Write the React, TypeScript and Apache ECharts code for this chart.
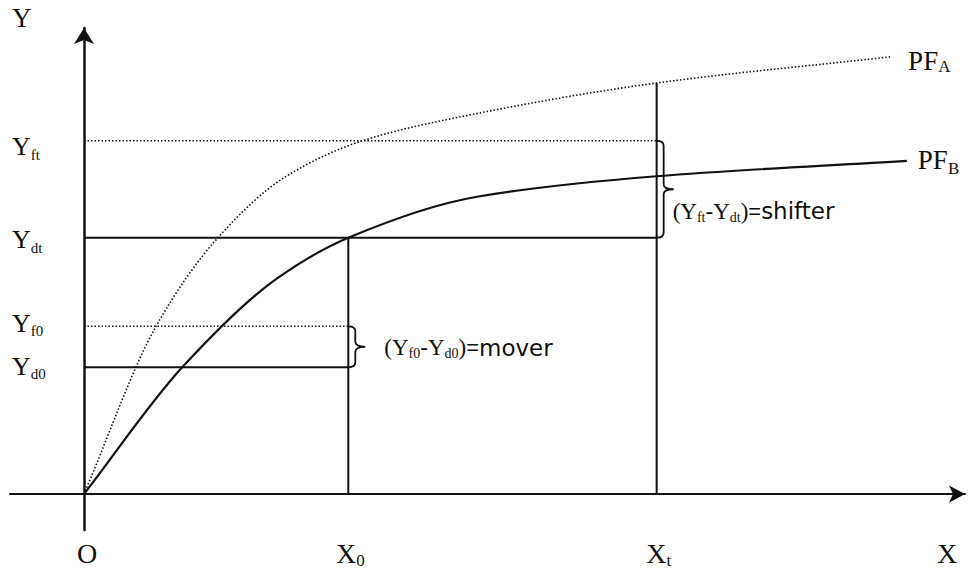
import React, { useEffect, useRef } from "react";
import * as echarts from "echarts";

// ---- values (arbitrary units, origin O = [0, 0]) ----
const X0 = 30;
const XT = 65;
const Y_FT = 75.8;
const Y_DT = 55;
const Y_F0 = 36;
const Y_D0 = 27.2;
const PF_A_AT_XT = 88.2;

const pfAX = [0, 8.2, 15.2, 22.8, 31.6, 45.0, 65, 91.5];
const pfAY = [0, 36.1, 55.0, 68.0, 75.8, 81.8, 88.2, 93.8];
const pfBX = [0, 11.2, 22.0, 30, 44.6, 65, 93.4];
const pfBY = [0, 27.3, 46.4, 55, 63.8, 68.2, 71.5];

const yTickValues = [Y_FT, Y_DT, Y_F0, Y_D0];
const yTickSubs = ["ft", "dt", "f0", "d0"];
const xTickValues = [0, X0, XT];
const xTickMains = ["O", "X", "X"];
const xTickSubs = ["", "0", "t"];
const curveSubs = ["A", "B"];

// ---- layout (not data) ----
const X_MIN = -8.4;
const X_MAX = 100;
const Y_MIN = -7.7;
const Y_MAX = 100;
const INK = "#111";
const SERIF = "'Liberation Serif', 'Times New Roman', serif";
const SANS = "'DejaVu Sans', Verdana, sans-serif";
const SANS2 = "'Liberation Sans', Arial, sans-serif";
const f = (size: number, fam: string) => `${size}px ${fam}`;

type Part = { t: string; font: string; dy: number };
type LabelSpec = { value: [number, number]; dx: number; dy: number; align: "left" | "center"; parts: Part[] };

const pairs = (xs: number[], ys: number[]) => xs.map((x, i) => [x, ys[i]]);

const yTickDy = [6, 2, -3, -1];

function buildLabels(): LabelSpec[] {
  const L: LabelSpec[] = [];
  L.push({ value: [0, Y_MAX], dx: -72, dy: -10, align: "left", parts: [{ t: "Y", font: f(27, SERIF), dy: 0 }] });
  L.push({ value: [X_MAX, 0], dx: -18, dy: 59, align: "center", parts: [{ t: "X", font: f(28, SERIF), dy: 0 }] });
  yTickValues.forEach((v, i) => {
    L.push({
      value: [0, v], dx: -72, dy: yTickDy[i], align: "left",
      parts: [{ t: "Y", font: f(26, SERIF), dy: 0 }, { t: yTickSubs[i], font: f(15, SERIF), dy: 8 }],
    });
  });
  xTickValues.forEach((v, i) => {
    const parts: Part[] = [{ t: xTickMains[i], font: f(28, SERIF), dy: 0 }];
    if (xTickSubs[i]) parts.push({ t: xTickSubs[i], font: f(17, SERIF), dy: 7 });
    L.push({ value: [v, 0], dx: i === 0 ? 3 : 2, dy: 59, align: "center", parts });
  });
  const endsA = [pfAX[pfAX.length - 1], pfAY[pfAY.length - 1]] as [number, number];
  const endsB = [pfBX[pfBX.length - 1], pfBY[pfBY.length - 1]] as [number, number];
  L.push({ value: endsA, dx: 18, dy: 4, align: "left", parts: [{ t: "PF", font: f(27, SERIF), dy: 0 }, { t: curveSubs[0], font: f(17, SERIF), dy: 6 }] });
  L.push({ value: endsB, dx: 11, dy: -1, align: "left", parts: [{ t: "PF", font: f(27, SERIF), dy: 0 }, { t: curveSubs[1], font: f(17, SERIF), dy: 9 }] });
  const ann = (s1: string, s2: string, word: string): Part[] => [
    { t: "(", font: f(23, SERIF), dy: 0 },
    { t: "Y", font: f(23, SERIF), dy: 0 },
    { t: s1, font: f(14, SERIF), dy: 6 },
    { t: "-", font: f(23, SERIF), dy: 0 },
    { t: "Y", font: f(23, SERIF), dy: 0 },
    { t: s2, font: f(14, SERIF), dy: 6 },
    { t: ")", font: f(23, SERIF), dy: 0 },
    { t: "=", font: f(22, SANS2), dy: 0 },
    { t: word, font: f(23, SANS), dy: 0 },
  ];
  L.push({ value: [X0, (Y_F0 + Y_D0) / 2], dx: 36, dy: 1, align: "left", parts: ann("f0", "d0", "mover") });
  L.push({ value: [XT, (Y_FT + Y_DT) / 2], dx: 16, dy: 22, align: "left", parts: ann("ft", "dt", "shifter") });
  return L;
}

const braces = [
  [X0, Y_D0, Y_F0],
  [XT, Y_DT, Y_FT],
];

// monotone cubic (Fritsch–Carlson) path through pixel points
function monotonePath(pts: number[][]): string {
  const n = pts.length;
  const d: number[] = [];
  const h: number[] = [];
  for (let i = 0; i < n - 1; i++) {
    h.push(pts[i + 1][0] - pts[i][0]);
    d.push((pts[i + 1][1] - pts[i][1]) / h[i]);
  }
  const m: number[] = new Array(n);
  m[0] = d[0];
  m[n - 1] = d[n - 2];
  for (let i = 1; i < n - 1; i++) {
    if (d[i - 1] * d[i] <= 0) m[i] = 0;
    else {
      const w1 = 2 * h[i] + h[i - 1];
      const w2 = h[i] + 2 * h[i - 1];
      m[i] = (w1 + w2) / (w1 / d[i - 1] + w2 / d[i]);
    }
  }
  let s = `M${pts[0][0]} ${pts[0][1]}`;
  for (let i = 0; i < n - 1; i++) {
    const [x1, y1] = pts[i];
    const [x2, y2] = pts[i + 1];
    const t = h[i] / 3;
    s += ` C${x1 + t} ${y1 + m[i] * t} ${x2 - t} ${y2 - m[i + 1] * t} ${x2} ${y2}`;
  }
  return s;
}

export default function App() {
  const ref = useRef<HTMLDivElement>(null);
  useEffect(() => {
    if (!ref.current) return;
    const chart = echarts.init(ref.current, undefined, { renderer: "svg" });
    const canvas = document.createElement("canvas");
    const ctx = canvas.getContext("2d")!;
    const measure = (t: string, font: string) => {
      ctx.font = font;
      return ctx.measureText(t).width;
    };
    const labels = buildLabels();

    const solid = { color: INK, width: 2, type: "solid" as const };
    const dotted = { color: INK, width: 1.5, type: [1.5, 2] as any };
    const seg = (data: number[][], lineStyle: any) => ({
      type: "line",
      data,
      symbol: "none",
      lineStyle,
      silent: true,
      animation: false,
      z: 3,
    });
    const curve = (name: string, data: number[][], style: any) => ({
      type: "custom",
      name,
      coordinateSystem: "cartesian2d",
      data,
      clip: false,
      silent: true,
      z: 4,
      renderItem: (params: any, api: any) => {
        if (params.dataIndex !== 0) return null;
        const px = data.map((p) => api.coord(p));
        return { type: "path", shape: { pathData: monotonePath(px) }, style: { fill: "none", stroke: INK, ...style } };
      },
    });

    chart.setOption({
      animation: false,
      backgroundColor: "#fff",
      grid: { left: 10, right: 3, top: 28, bottom: 41 },
      xAxis: {
        type: "value",
        min: X_MIN,
        max: X_MAX,
        axisLine: { show: true, onZero: true, symbol: ["none", "arrow"], symbolSize: [13, 16], lineStyle: { color: INK, width: 2 } },
        axisTick: { show: false },
        axisLabel: { show: false },
        splitLine: { show: false },
      },
      yAxis: {
        type: "value",
        min: Y_MIN,
        max: Y_MAX,
        axisLine: { show: true, onZero: true, symbol: ["none", "arrow"], symbolSize: [15, 16], lineStyle: { color: INK, width: 2.5 } },
        axisTick: { show: false },
        axisLabel: { show: false },
        splitLine: { show: false },
      },
      series: [
        seg([[0, Y_FT], [XT, Y_FT]], dotted),
        seg([[0, Y_DT], [XT, Y_DT]], solid),
        seg([[0, Y_F0], [X0, Y_F0]], dotted),
        seg([[0, Y_D0], [X0, Y_D0]], solid),
        seg([[X0, 0], [X0, Y_DT]], solid),
        seg([[XT, 0], [XT, PF_A_AT_XT]], solid),
        curve("PF_A", pairs(pfAX, pfAY), { lineWidth: 1.6, lineDash: [1.5, 2] }),
        curve("PF_B", pairs(pfBX, pfBY), { lineWidth: 2.2 }),
        {
          type: "custom",
          coordinateSystem: "cartesian2d",
          data: braces,
          clip: false,
          silent: true,
          z: 5,
          renderItem: (_p: any, api: any) => {
            const x = api.value(0);
            const top = api.coord([x, api.value(2)]);
            const bot = api.coord([x, api.value(1)]);
            const x0 = top[0];
            const y1 = top[1];
            const y2 = bot[1];
            const xv = x0 + 7;
            const xt = xv + 10;
            const ym = (y1 + y2) / 2;
            const r = 5;
            const c = 5;
            const d =
              `M${x0} ${y1} Q${xv} ${y1} ${xv} ${y1 + r} L${xv} ${ym - c} Q${xv} ${ym} ${xt} ${ym} ` +
              `Q${xv} ${ym} ${xv} ${ym + c} L${xv} ${y2 - r} Q${xv} ${y2} ${x0} ${y2}`;
            return { type: "path", shape: { pathData: d }, style: { stroke: INK, fill: "none", lineWidth: 1.8 } };
          },
        },
        {
          type: "custom",
          coordinateSystem: "cartesian2d",
          data: labels.map((l) => l.value),
          clip: false,
          silent: true,
          z: 6,
          renderItem: (params: any, api: any) => {
            const spec = labels[params.dataIndex];
            const p = api.coord([api.value(0), api.value(1)]);
            const widths = spec.parts.map((q) => measure(q.t, q.font));
            const total = widths.reduce((a, b) => a + b, 0);
            let x = p[0] + spec.dx - (spec.align === "center" ? total / 2 : 0);
            const y = p[1] + spec.dy;
            const children = spec.parts.map((q, i) => {
              const el = {
                type: "text",
                style: { text: q.t, x, y: y + q.dy, font: q.font, fill: INK, align: "left", verticalAlign: "middle" },
              };
              x += widths[i];
              return el;
            });
            return { type: "group", children };
          },
        },
      ],
    });
    return () => chart.dispose();
  }, []);
  return (
    <div
      ref={ref}
      style={{ position: "absolute", left: 0, top: 0, width: 968, height: 571, background: "#fff" }}
    />
  );
}
